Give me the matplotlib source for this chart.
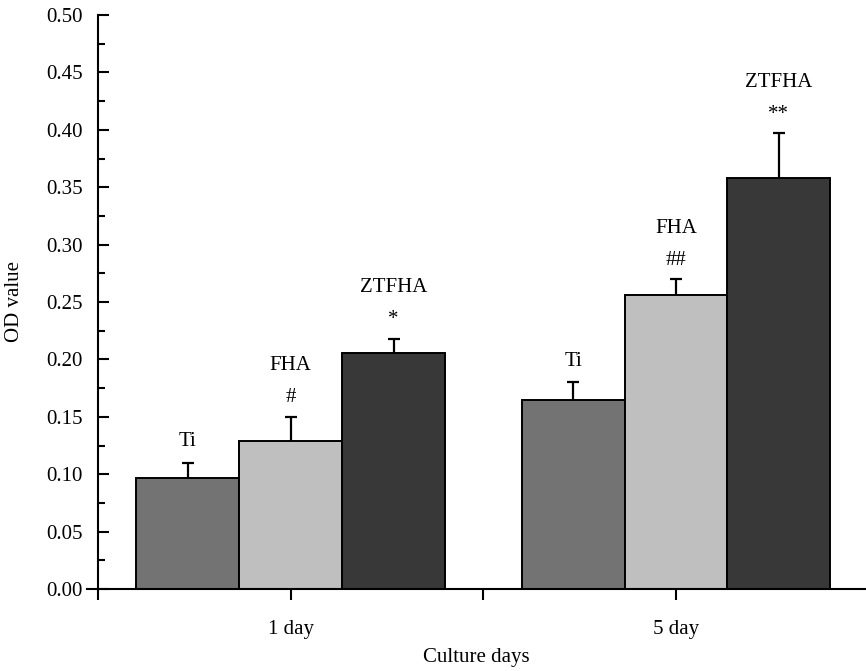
import numpy as np
import matplotlib
matplotlib.use("Agg")
import matplotlib.pyplot as plt
from matplotlib.ticker import MultipleLocator, FixedLocator, FormatStrFormatter

plt.rcParams['font.family'] = ['Liberation Serif', 'DejaVu Serif']

days = ["1 day", "5 day"]
materials = ["Ti", "FHA", "ZTFHA"]
colors = ["#737373", "#bfbfbf", "#383838"]

ti_mean = [0.097, 0.165]
ti_err = [0.013, 0.015]
fha_mean = [0.129, 0.256]
fha_err = [0.021, 0.014]
ztfha_mean = [0.206, 0.358]
ztfha_err = [0.012, 0.039]

ti_sig = ["", ""]
fha_sig = ["#", "##"]
ztfha_sig = ["*", "**"]

means = [ti_mean, fha_mean, ztfha_mean]
errs = [ti_err, fha_err, ztfha_err]
sigs = [ti_sig, fha_sig, ztfha_sig]

fig = plt.figure(figsize=(8.66, 6.71), dpi=100)
ax = fig.add_axes([87 / 866, 82 / 671, 1 - 87 / 866, 574 / 671])

centers = np.array([1.0, 2.0])
width = 0.267

for i in range(len(materials)):
    x = centers + (i - 1) * width
    ax.bar(x, means[i], width, color=colors[i], edgecolor="black", linewidth=1.4, zorder=2)
    eb = ax.errorbar(x, means[i], yerr=[np.zeros(len(x)), errs[i]], fmt="none",
                     ecolor="black", elinewidth=1.6, capsize=4.5, capthick=1.6, zorder=3)
    eb[1][0].set_visible(False)
    for j in range(len(x)):
        top = means[i][j] + errs[i][j]
        if sigs[i][j]:
            ax.annotate(sigs[i][j], (x[j], top), xytext=(0, 19), textcoords="offset pixels",
                        ha="center", va="center", fontsize=15)
            ax.annotate(materials[i], (x[j], top), xytext=(0, 51), textcoords="offset pixels",
                        ha="center", va="center", fontsize=15)
        else:
            ax.annotate(materials[i], (x[j], top), xytext=(0, 21), textcoords="offset pixels",
                        ha="center", va="center", fontsize=15)

ax.set_xlim(0.4715, 2.493)
ax.set_ylim(0, 0.5)

ax.spines["top"].set_visible(False)
ax.spines["right"].set_visible(False)
ax.spines["left"].set_position(("data", 0.5))
ax.spines["left"].set_linewidth(1.5)
ax.spines["bottom"].set_linewidth(1.5)

ax.yaxis.set_major_locator(MultipleLocator(0.05))
ax.yaxis.set_minor_locator(MultipleLocator(0.025))
ax.yaxis.set_major_formatter(FormatStrFormatter("%.2f"))
ax.tick_params(axis="y", which="major", direction="in", length=8, width=1.5, pad=11, labelsize=15)
ax.tick_params(axis="y", which="minor", direction="in", length=5, width=1.5)

ax.xaxis.set_major_locator(FixedLocator([0.5, 1.0, 1.5, 2.0]))
ax.set_xticklabels(["", days[0], "", days[1]])
ax.tick_params(axis="x", direction="out", length=8, width=1.5, pad=14, labelsize=15)

ax.set_xlabel("Culture days", fontsize=15, labelpad=7)
ax.set_ylabel("OD value", fontsize=15, labelpad=16)

fig.savefig("out.png", dpi=100)
